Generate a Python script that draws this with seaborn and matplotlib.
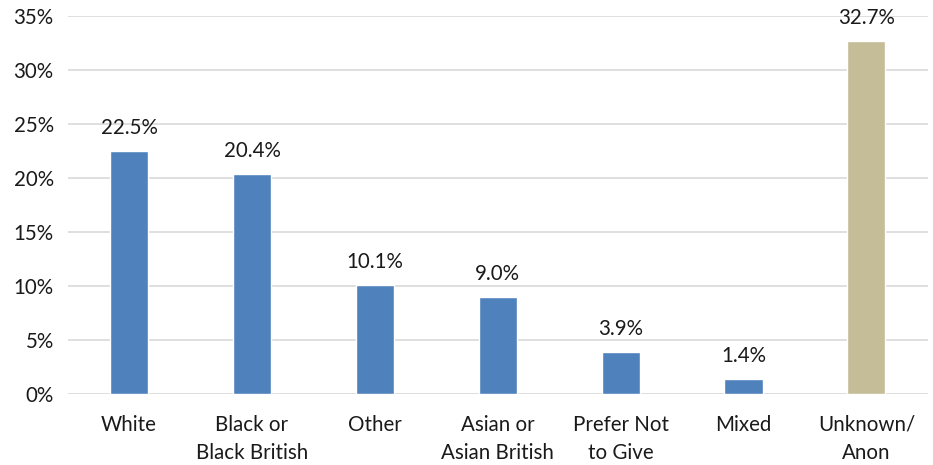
import matplotlib
matplotlib.use("Agg")
import matplotlib.pyplot as plt
import seaborn as sns
import pandas as pd
from matplotlib.ticker import FuncFormatter

categories = ["White", "Black or\nBlack British", "Other", "Asian or\nAsian British",
              "Prefer Not\nto Give", "Mixed", "Unknown/\nAnon"]
values = [22.5, 20.4, 10.1, 9.0, 3.9, 1.4, 32.7]
colors = ["#4F81BD"] * 6 + ["#C4BD97"]

sns.set_theme(style="white")
plt.rcParams['font.family'] = ['Lato', 'DejaVu Sans']

df = pd.DataFrame({"cat": categories, "val": values})
fig = plt.figure(figsize=(9.33, 4.65), dpi=100)
ax = fig.add_axes([0.0725, 0.153, 0.922, 0.813])
sns.barplot(data=df, x="cat", y="val", hue="cat", palette=colors, legend=False,
            width=0.31, ax=ax, saturation=1)
ax.set_ylim(0, 35)
ax.set_yticks(range(0, 36, 5))
ax.yaxis.set_major_formatter(FuncFormatter(lambda v, p: f"{int(v)}%"))
ax.grid(axis="y", color="#D9D9D9", linewidth=1.2)
ax.set_axisbelow(True)
for s in ax.spines.values():
    s.set_visible(False)
ax.tick_params(axis="both", length=0, labelsize=14.8, colors="#1a1a1a")
ax.tick_params(axis="x", pad=15)
ax.tick_params(axis="y", pad=10)
ax.set_xlabel("")
ax.set_ylabel("")
for i, v in enumerate(values):
    ax.text(i, v + 1.2, f"{v:.1f}%", ha="center", va="bottom", fontsize=14.8, color="#1a1a1a")
for lbl in ax.get_xticklabels():
    lbl.set_linespacing(1.5)
fig.savefig("out.png", dpi=100)
